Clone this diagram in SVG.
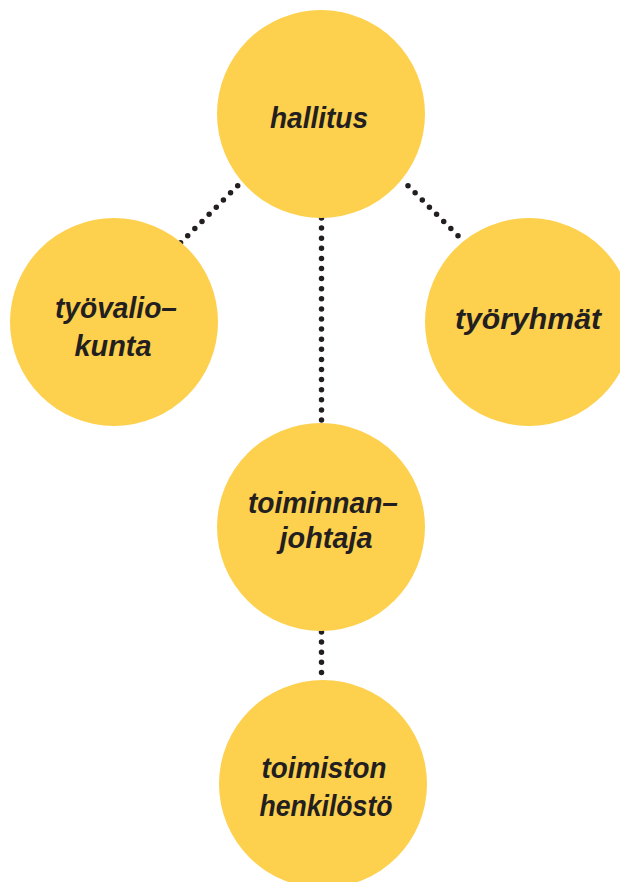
<svg xmlns="http://www.w3.org/2000/svg" width="620" height="882" viewBox="0 0 620 882">
<style>
.node{fill:#fdd04e}
.lbl{font-family:"Liberation Sans","DejaVu Sans",sans-serif;font-weight:bold;font-style:italic;font-size:30px;fill:#231f20;text-anchor:middle}
.dot{stroke:#231f20;stroke-width:5.5;stroke-linecap:round;stroke-dasharray:0 10.1;fill:none}
</style>
<rect width="620" height="882" fill="#ffffff"/>
<g id="connectors">
<line class="dot" x1="237.7" y1="185.7" x2="180.3" y2="243.1"/>
<line class="dot" x1="408" y1="185.7" x2="465" y2="242.7"/>
<line class="dot" x1="321.5" y1="218" x2="321.5" y2="425"/>
<line class="dot" x1="321.5" y1="632" x2="321.5" y2="674.5"/>
</g>
<g id="hallitus">
<circle class="node" cx="321" cy="114" r="104"/>
<text class="lbl" x="319" y="128" textLength="98" lengthAdjust="spacingAndGlyphs">hallitus</text>
</g>
<g id="tyovaliokunta">
<circle class="node" cx="114" cy="322" r="104"/>
<text class="lbl" x="116" y="318" textLength="122" lengthAdjust="spacingAndGlyphs">työvalio–</text>
<text class="lbl" x="113" y="356" textLength="77" lengthAdjust="spacingAndGlyphs">kunta</text>
</g>
<g id="tyoryhmat">
<circle class="node" cx="529" cy="322" r="104"/>
<text class="lbl" x="528" y="329" textLength="146" lengthAdjust="spacingAndGlyphs">työryhmät</text>
</g>
<g id="toiminnanjohtaja">
<circle class="node" cx="321" cy="527" r="104"/>
<text class="lbl" x="323" y="513" textLength="150" lengthAdjust="spacingAndGlyphs">toiminnan–</text>
<text class="lbl" x="326" y="548" textLength="93" lengthAdjust="spacingAndGlyphs">johtaja</text>
</g>
<g id="toimistonhenkilosto">
<circle class="node" cx="323" cy="784" r="104"/>
<text class="lbl" x="324" y="778" textLength="125" lengthAdjust="spacingAndGlyphs">toimiston</text>
<text class="lbl" x="326" y="816" textLength="133" lengthAdjust="spacingAndGlyphs">henkilöstö</text>
</g>
</svg>
